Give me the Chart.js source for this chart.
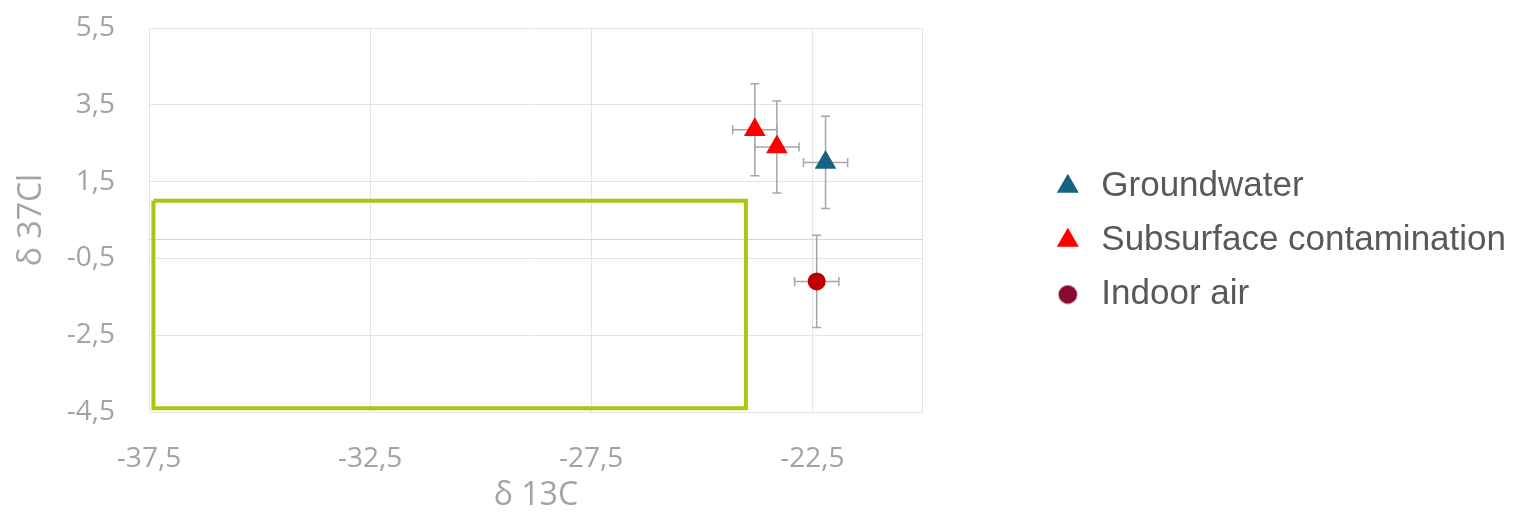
<!DOCTYPE html>
<html>
<head>
<meta charset="utf-8">
<script src="https://cdn.jsdelivr.net/npm/chart.js@4.4.1/dist/chart.umd.min.js"></script>
<style>
  html, body { margin: 0; padding: 0; background: #ffffff; }
  #wrap { width: 1516px; height: 515px; }
</style>
</head>
<body>
<div id="wrap"><canvas id="c" width="1516" height="515"></canvas></div>
<script>
// Axis ticks (δ13C on x, δ37Cl on y)
const xTickValues = [-37.5, -32.5, -27.5, -22.5];
const yTickValues = [5.5, 3.5, 1.5, -0.5, -2.5, -4.5];
const xRange = [-37.5, -20];
const yRange = [-4.5, 5.5];

// Series: isotope signatures with their uncertainties
const seriesNames = ['Groundwater', 'Subsurface contamination', 'Indoor air'];
const groundwaterC = [-22.2];
const groundwaterCl = [2.0];
const groundwaterErrC = [0.5];
const groundwaterErrCl = [1.2];

const subsurfaceC = [-23.8, -23.3];
const subsurfaceCl = [2.85, 2.4];
const subsurfaceErrC = [0.5, 0.5];
const subsurfaceErrCl = [1.2, 1.2];

const indoorC = [-22.4];
const indoorCl = [-1.1];
const indoorErrC = [0.5];
const indoorErrCl = [1.2];

// Reference field (rectangle outline)
const fieldC = [-37.4, -24.0, -24.0, -37.4, -37.4];
const fieldCl = [1.0, 1.0, -4.4, -4.4, 1.0];

const toPoints = (xs, ys) => xs.map((x, i) => ({ x: x, y: ys[i] }));
const fmt = v => v.toFixed(1).replace('.', ',');

const GRID = '#e4e4e4';
const NONE = 'rgba(0,0,0,0)';
const TICK_COLOR = '#a3a3a3';
const TICK_FONT = { family: "'Open Sans', sans-serif", size: 28 };
const TITLE_FONT = { family: "'Open Sans', sans-serif", size: 32 };

// Small marker image for the "Indoor air" legend entry
const legendDot = document.createElement('canvas');
legendDot.width = 20; legendDot.height = 20;
(function () {
  const g = legendDot.getContext('2d');
  g.fillStyle = '#8a0b30';
  g.beginPath(); g.arc(10, 10, 9.3, 0, Math.PI * 2); g.fill();
})();

// Error bars drawn under the markers, sized through the chart scales
const errorBars = {
  id: 'errorBars',
  beforeDatasetsDraw(chart) {
    const { ctx, scales: { x, y } } = chart;
    const cap = 4.5;
    ctx.save();
    ctx.strokeStyle = '#a6a6a6';
    ctx.lineWidth = 1.5;
    chart.data.datasets.forEach(ds => {
      if (!ds.errX) return;
      ds.data.forEach((p, i) => {
        const px = x.getPixelForValue(p.x);
        const py = y.getPixelForValue(p.y);
        const x0 = x.getPixelForValue(p.x - ds.errX[i]);
        const x1 = x.getPixelForValue(p.x + ds.errX[i]);
        const y0 = y.getPixelForValue(p.y - ds.errY[i]);
        const y1 = y.getPixelForValue(p.y + ds.errY[i]);
        ctx.beginPath();
        ctx.moveTo(x0, py); ctx.lineTo(x1, py);
        ctx.moveTo(x0, py - cap); ctx.lineTo(x0, py + cap);
        ctx.moveTo(x1, py - cap); ctx.lineTo(x1, py + cap);
        ctx.moveTo(px, y0); ctx.lineTo(px, y1);
        ctx.moveTo(px - cap, y0); ctx.lineTo(px + cap, y0);
        ctx.moveTo(px - cap, y1); ctx.lineTo(px + cap, y1);
        ctx.stroke();
      });
    });
    ctx.restore();
  }
};

const legendStyles = [
  { color: '#176280', pointStyle: 'triangle' },
  { color: '#ff0000', pointStyle: 'triangle' },
  { color: '#8a0b30', pointStyle: legendDot }
];

new Chart(document.getElementById('c'), {
  type: 'scatter',
  data: {
    datasets: [
      {
        label: seriesNames[0],
        data: toPoints(groundwaterC, groundwaterCl),
        errX: groundwaterErrC, errY: groundwaterErrCl,
        pointStyle: 'triangle', pointRadius: 12.5,
        backgroundColor: '#176280', borderColor: '#176280', borderWidth: 0
      },
      {
        label: seriesNames[1],
        data: toPoints(subsurfaceC, subsurfaceCl),
        errX: subsurfaceErrC, errY: subsurfaceErrCl,
        pointStyle: 'triangle', pointRadius: 12.5,
        backgroundColor: '#ff0000', borderColor: '#ff0000', borderWidth: 0
      },
      {
        label: seriesNames[2],
        data: toPoints(indoorC, indoorCl),
        errX: indoorErrC, errY: indoorErrCl,
        pointStyle: 'circle', pointRadius: 9,
        backgroundColor: '#c00000', borderColor: '#c00000', borderWidth: 0
      },
      {
        label: 'field',
        data: toPoints(fieldC, fieldCl),
        showLine: true,
        fill: false,
        borderColor: '#a9c80d',
        borderWidth: 4,
        pointRadius: 0,
        tension: 0
      }
    ]
  },
  options: {
    responsive: false,
    animation: false,
    events: [],
    layout: { padding: { top: 28, left: 0, right: 0, bottom: 0 } },
    scales: {
      x: {
        type: 'linear',
        min: xRange[0], max: xRange[1],
        afterBuildTicks(s) {
          s.ticks = xTickValues.concat([xRange[1]]).map(v => ({ value: v }));
        },
        afterFit(s) { s.height = 103; },
        grid: { color: GRID, lineWidth: 1, drawTicks: true, tickLength: 30, tickColor: NONE },
        border: { display: false },
        ticks: {
          autoSkip: false, maxRotation: 0, padding: 0,
          color: TICK_COLOR, font: TICK_FONT,
          callback: v => (xTickValues.includes(v) ? fmt(v) : '')
        },
        title: {
          display: true, text: 'δ 13C', color: TICK_COLOR, font: TITLE_FONT,
          padding: { top: 0, bottom: 0 }
        }
      },
      y: {
        type: 'linear',
        min: yRange[0], max: yRange[1],
        afterBuildTicks(s) {
          s.ticks = yTickValues.concat([0]).map(v => ({ value: v }));
        },
        afterFit(s) { s.width = 149; },
        grid: {
          color: ctx => (ctx.tick && ctx.tick.value === 0 ? '#d6d6d6' : GRID),
          lineWidth: 1, drawTicks: true, tickLength: 34, tickColor: NONE
        },
        border: { display: false },
        ticks: {
          autoSkip: false, padding: 0,
          color: TICK_COLOR, font: TICK_FONT,
          callback: v => (yTickValues.includes(v) ? fmt(v) : '')
        },
        title: {
          display: true, text: 'δ 37Cl', color: TICK_COLOR, font: TITLE_FONT,
          padding: { top: 13, bottom: 0 }
        }
      },
      // empty band between the plot and the legend
      gap: {
        type: 'linear', position: 'right', axis: 'y', display: true,
        grid: { display: false }, border: { display: false },
        ticks: { display: false },
        afterFit(s) { s.width = 110; }
      }
    },
    plugins: {
      tooltip: { enabled: false },
      legend: {
        display: true,
        position: 'right',
        align: 'start',
        maxWidth: 520,
        title: { display: true, text: '', font: { size: 10 }, padding: { top: 110, bottom: 0 } },
        labels: {
          usePointStyle: true,
          boxWidth: 32,
          boxHeight: 18,
          padding: 19,
          color: '#595959',
          font: { family: "'Liberation Sans', Arial, sans-serif", size: 35 },
          generateLabels: chart => seriesNames.map((name, i) => ({
            text: name,
            fillStyle: legendStyles[i].color,
            strokeStyle: legendStyles[i].color,
            lineWidth: 0,
            pointStyle: legendStyles[i].pointStyle,
            hidden: false,
            datasetIndex: i,
            fontColor: '#595959'
          }))
        }
      }
    }
  },
  plugins: [errorBars]
});
</script>
</body>
</html>
